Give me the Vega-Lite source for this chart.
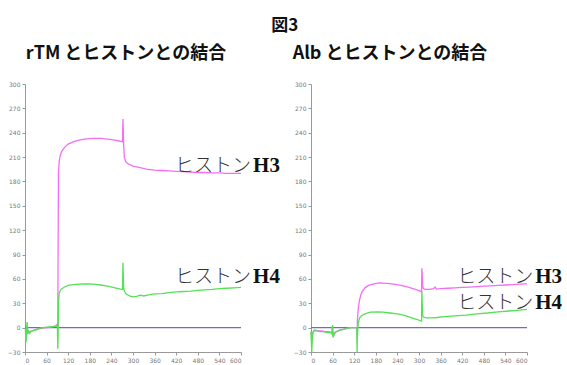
{
  "$schema": "https://vega.github.io/schema/vega-lite/v6.json",
  "background": "white",
  "padding": {"left": 7, "top": 17, "right": 0, "bottom": 0},
  "bounds": "flush",
  "title": {"text": "図3", "font": "Noto Sans CJK JP", "fontSize": 17, "fontWeight": "bold", "color": "#111", "anchor": "middle", "offset": 10},
  "datasets": {
    "curves": [
      {"p":"rTM","s":"H3","t":1,"v":-2},{"p":"rTM","s":"H3","t":3,"v":-6},{"p":"rTM","s":"H3","t":5,"v":-4},{"p":"rTM","s":"H3","t":8,"v":-7},{"p":"rTM","s":"H3","t":12,"v":-5},{"p":"rTM","s":"H3","t":20,"v":-4},{"p":"rTM","s":"H3","t":30,"v":-2},{"p":"rTM","s":"H3","t":45,"v":-1},{"p":"rTM","s":"H3","t":60,"v":0},{"p":"rTM","s":"H3","t":75,"v":1},{"p":"rTM","s":"H3","t":85,"v":2},{"p":"rTM","s":"H3","t":89,"v":4},{"p":"rTM","s":"H3","t":91,"v":3},{"p":"rTM","s":"H3","t":92,"v":100},{"p":"rTM","s":"H3","t":93,"v":190},{"p":"rTM","s":"H3","t":95,"v":205},{"p":"rTM","s":"H3","t":98,"v":212},{"p":"rTM","s":"H3","t":102,"v":217},{"p":"rTM","s":"H3","t":110,"v":222},{"p":"rTM","s":"H3","t":120,"v":226},{"p":"rTM","s":"H3","t":135,"v":229},{"p":"rTM","s":"H3","t":150,"v":231},{"p":"rTM","s":"H3","t":170,"v":232.5},{"p":"rTM","s":"H3","t":190,"v":233},{"p":"rTM","s":"H3","t":210,"v":233},{"p":"rTM","s":"H3","t":230,"v":232},{"p":"rTM","s":"H3","t":250,"v":231},{"p":"rTM","s":"H3","t":265,"v":229.5},{"p":"rTM","s":"H3","t":271,"v":229},{"p":"rTM","s":"H3","t":272,"v":257},{"p":"rTM","s":"H3","t":273,"v":245},{"p":"rTM","s":"H3","t":274,"v":225},{"p":"rTM","s":"H3","t":276,"v":210},{"p":"rTM","s":"H3","t":279,"v":205},{"p":"rTM","s":"H3","t":285,"v":202},{"p":"rTM","s":"H3","t":300,"v":199},{"p":"rTM","s":"H3","t":320,"v":197},{"p":"rTM","s":"H3","t":340,"v":195},{"p":"rTM","s":"H3","t":360,"v":194},{"p":"rTM","s":"H3","t":380,"v":193.5},{"p":"rTM","s":"H3","t":400,"v":193},{"p":"rTM","s":"H3","t":420,"v":192.5},{"p":"rTM","s":"H3","t":440,"v":192},{"p":"rTM","s":"H3","t":460,"v":191.5},{"p":"rTM","s":"H3","t":480,"v":191},{"p":"rTM","s":"H3","t":500,"v":191},{"p":"rTM","s":"H3","t":520,"v":190.5},{"p":"rTM","s":"H3","t":540,"v":190.5},{"p":"rTM","s":"H3","t":560,"v":190},{"p":"rTM","s":"H3","t":580,"v":190},{"p":"rTM","s":"H3","t":600,"v":190},
      {"p":"rTM","s":"H4","t":1,"v":-3},{"p":"rTM","s":"H4","t":3,"v":-18},{"p":"rTM","s":"H4","t":4,"v":-8},{"p":"rTM","s":"H4","t":5,"v":2},{"p":"rTM","s":"H4","t":6,"v":7},{"p":"rTM","s":"H4","t":7,"v":-2},{"p":"rTM","s":"H4","t":8,"v":-6},{"p":"rTM","s":"H4","t":10,"v":-4},{"p":"rTM","s":"H4","t":13,"v":-7},{"p":"rTM","s":"H4","t":16,"v":-5},{"p":"rTM","s":"H4","t":20,"v":-4},{"p":"rTM","s":"H4","t":30,"v":-3},{"p":"rTM","s":"H4","t":40,"v":-1},{"p":"rTM","s":"H4","t":50,"v":0},{"p":"rTM","s":"H4","t":60,"v":0.5},{"p":"rTM","s":"H4","t":70,"v":1},{"p":"rTM","s":"H4","t":80,"v":1.5},{"p":"rTM","s":"H4","t":88,"v":2},{"p":"rTM","s":"H4","t":90,"v":1},{"p":"rTM","s":"H4","t":91,"v":-26},{"p":"rTM","s":"H4","t":92,"v":-10},{"p":"rTM","s":"H4","t":93,"v":30},{"p":"rTM","s":"H4","t":95,"v":42},{"p":"rTM","s":"H4","t":98,"v":46},{"p":"rTM","s":"H4","t":102,"v":48},{"p":"rTM","s":"H4","t":110,"v":50},{"p":"rTM","s":"H4","t":120,"v":52},{"p":"rTM","s":"H4","t":135,"v":53},{"p":"rTM","s":"H4","t":150,"v":53.5},{"p":"rTM","s":"H4","t":170,"v":54},{"p":"rTM","s":"H4","t":190,"v":53.5},{"p":"rTM","s":"H4","t":210,"v":52.5},{"p":"rTM","s":"H4","t":230,"v":51},{"p":"rTM","s":"H4","t":250,"v":49},{"p":"rTM","s":"H4","t":265,"v":47.5},{"p":"rTM","s":"H4","t":271,"v":47},{"p":"rTM","s":"H4","t":272,"v":80},{"p":"rTM","s":"H4","t":273,"v":65},{"p":"rTM","s":"H4","t":274,"v":50},{"p":"rTM","s":"H4","t":276,"v":45},{"p":"rTM","s":"H4","t":280,"v":42},{"p":"rTM","s":"H4","t":290,"v":39},{"p":"rTM","s":"H4","t":300,"v":38},{"p":"rTM","s":"H4","t":310,"v":38.5},{"p":"rTM","s":"H4","t":320,"v":40},{"p":"rTM","s":"H4","t":330,"v":39},{"p":"rTM","s":"H4","t":340,"v":40},{"p":"rTM","s":"H4","t":350,"v":41},{"p":"rTM","s":"H4","t":360,"v":41.5},{"p":"rTM","s":"H4","t":380,"v":42},{"p":"rTM","s":"H4","t":400,"v":43},{"p":"rTM","s":"H4","t":420,"v":44},{"p":"rTM","s":"H4","t":440,"v":44.5},{"p":"rTM","s":"H4","t":460,"v":45},{"p":"rTM","s":"H4","t":480,"v":46},{"p":"rTM","s":"H4","t":500,"v":46.5},{"p":"rTM","s":"H4","t":520,"v":47},{"p":"rTM","s":"H4","t":540,"v":48},{"p":"rTM","s":"H4","t":560,"v":48.5},{"p":"rTM","s":"H4","t":580,"v":49},{"p":"rTM","s":"H4","t":600,"v":49.5},
      {"p":"Alb","s":"H3","t":0,"v":-5},{"p":"Alb","s":"H3","t":2,"v":-14},{"p":"Alb","s":"H3","t":3,"v":-11},{"p":"Alb","s":"H3","t":5,"v":-7},{"p":"Alb","s":"H3","t":7,"v":-4},{"p":"Alb","s":"H3","t":10,"v":-3},{"p":"Alb","s":"H3","t":20,"v":-4},{"p":"Alb","s":"H3","t":30,"v":-4},{"p":"Alb","s":"H3","t":40,"v":-5},{"p":"Alb","s":"H3","t":50,"v":-5},{"p":"Alb","s":"H3","t":55,"v":-6},{"p":"Alb","s":"H3","t":58,"v":-7},{"p":"Alb","s":"H3","t":59,"v":-2},{"p":"Alb","s":"H3","t":60,"v":2},{"p":"Alb","s":"H3","t":61,"v":-8},{"p":"Alb","s":"H3","t":63,"v":-9},{"p":"Alb","s":"H3","t":66,"v":-6},{"p":"Alb","s":"H3","t":70,"v":-5},{"p":"Alb","s":"H3","t":80,"v":-3},{"p":"Alb","s":"H3","t":90,"v":-2},{"p":"Alb","s":"H3","t":100,"v":-1},{"p":"Alb","s":"H3","t":110,"v":0},{"p":"Alb","s":"H3","t":120,"v":0},{"p":"Alb","s":"H3","t":127,"v":0},{"p":"Alb","s":"H3","t":128,"v":-8},{"p":"Alb","s":"H3","t":129,"v":10},{"p":"Alb","s":"H3","t":131,"v":22},{"p":"Alb","s":"H3","t":134,"v":32},{"p":"Alb","s":"H3","t":138,"v":40},{"p":"Alb","s":"H3","t":143,"v":45},{"p":"Alb","s":"H3","t":150,"v":49},{"p":"Alb","s":"H3","t":160,"v":52},{"p":"Alb","s":"H3","t":175,"v":54},{"p":"Alb","s":"H3","t":190,"v":55},{"p":"Alb","s":"H3","t":210,"v":54.5},{"p":"Alb","s":"H3","t":230,"v":53.5},{"p":"Alb","s":"H3","t":250,"v":52},{"p":"Alb","s":"H3","t":270,"v":50},{"p":"Alb","s":"H3","t":290,"v":47},{"p":"Alb","s":"H3","t":300,"v":45.5},{"p":"Alb","s":"H3","t":307,"v":44},{"p":"Alb","s":"H3","t":308,"v":73},{"p":"Alb","s":"H3","t":309,"v":65},{"p":"Alb","s":"H3","t":310,"v":52},{"p":"Alb","s":"H3","t":312,"v":48},{"p":"Alb","s":"H3","t":318,"v":47},{"p":"Alb","s":"H3","t":330,"v":47},{"p":"Alb","s":"H3","t":340,"v":48},{"p":"Alb","s":"H3","t":345,"v":50},{"p":"Alb","s":"H3","t":348,"v":47.5},{"p":"Alb","s":"H3","t":360,"v":48},{"p":"Alb","s":"H3","t":380,"v":48.5},{"p":"Alb","s":"H3","t":400,"v":49},{"p":"Alb","s":"H3","t":420,"v":49.5},{"p":"Alb","s":"H3","t":440,"v":50},{"p":"Alb","s":"H3","t":460,"v":50.5},{"p":"Alb","s":"H3","t":480,"v":51},{"p":"Alb","s":"H3","t":500,"v":51.5},{"p":"Alb","s":"H3","t":520,"v":52},{"p":"Alb","s":"H3","t":540,"v":52.5},{"p":"Alb","s":"H3","t":560,"v":53},{"p":"Alb","s":"H3","t":580,"v":53.5},{"p":"Alb","s":"H3","t":600,"v":54},
      {"p":"Alb","s":"H4","t":0,"v":-5},{"p":"Alb","s":"H4","t":2,"v":-30},{"p":"Alb","s":"H4","t":3,"v":-20},{"p":"Alb","s":"H4","t":5,"v":-6},{"p":"Alb","s":"H4","t":8,"v":-4},{"p":"Alb","s":"H4","t":15,"v":-4},{"p":"Alb","s":"H4","t":25,"v":-5},{"p":"Alb","s":"H4","t":35,"v":-5},{"p":"Alb","s":"H4","t":45,"v":-6},{"p":"Alb","s":"H4","t":55,"v":-6},{"p":"Alb","s":"H4","t":58,"v":-8},{"p":"Alb","s":"H4","t":59,"v":0},{"p":"Alb","s":"H4","t":60,"v":3},{"p":"Alb","s":"H4","t":61,"v":-12},{"p":"Alb","s":"H4","t":63,"v":-10},{"p":"Alb","s":"H4","t":66,"v":-7},{"p":"Alb","s":"H4","t":70,"v":-5},{"p":"Alb","s":"H4","t":80,"v":-3},{"p":"Alb","s":"H4","t":90,"v":-2},{"p":"Alb","s":"H4","t":100,"v":-1},{"p":"Alb","s":"H4","t":110,"v":0},{"p":"Alb","s":"H4","t":120,"v":0},{"p":"Alb","s":"H4","t":127,"v":0},{"p":"Alb","s":"H4","t":128,"v":-30},{"p":"Alb","s":"H4","t":129,"v":-10},{"p":"Alb","s":"H4","t":131,"v":5},{"p":"Alb","s":"H4","t":135,"v":12},{"p":"Alb","s":"H4","t":141,"v":15},{"p":"Alb","s":"H4","t":150,"v":17},{"p":"Alb","s":"H4","t":165,"v":19},{"p":"Alb","s":"H4","t":185,"v":19.5},{"p":"Alb","s":"H4","t":200,"v":19},{"p":"Alb","s":"H4","t":220,"v":18},{"p":"Alb","s":"H4","t":240,"v":17},{"p":"Alb","s":"H4","t":260,"v":15},{"p":"Alb","s":"H4","t":280,"v":12},{"p":"Alb","s":"H4","t":295,"v":10},{"p":"Alb","s":"H4","t":307,"v":8},{"p":"Alb","s":"H4","t":308,"v":45},{"p":"Alb","s":"H4","t":309,"v":30},{"p":"Alb","s":"H4","t":310,"v":16},{"p":"Alb","s":"H4","t":312,"v":13},{"p":"Alb","s":"H4","t":320,"v":12},{"p":"Alb","s":"H4","t":335,"v":12},{"p":"Alb","s":"H4","t":350,"v":12.5},{"p":"Alb","s":"H4","t":370,"v":13.5},{"p":"Alb","s":"H4","t":400,"v":14.5},{"p":"Alb","s":"H4","t":430,"v":15.5},{"p":"Alb","s":"H4","t":460,"v":17},{"p":"Alb","s":"H4","t":490,"v":18},{"p":"Alb","s":"H4","t":520,"v":19.5},{"p":"Alb","s":"H4","t":550,"v":20.5},{"p":"Alb","s":"H4","t":580,"v":21.5},{"p":"Alb","s":"H4","t":600,"v":22.5}
    ],
    "zero": [{"t": 0, "t2": 600, "v": 0}],
    "labels": [
      {"p":"rTM","t":417,"v":203,"kana":"ヒストン","h":"H3"},
      {"p":"rTM","t":417,"v":66,"kana":"ヒストン","h":"H4"},
      {"p":"Alb","t":406,"v":66,"kana":"ヒストン","h":"H3"},
      {"p":"Alb","t":406,"v":34,"kana":"ヒストン","h":"H4"}
    ]
  },
  "config": {
    "view": {"stroke": null},
    "axis": {"grid": false, "labelFont": "DejaVu Sans", "labelFontSize": 6, "labelColor": "#777", "domainColor": "#999", "tickColor": "#999", "tickSize": 3, "labelPadding": 2, "labelOverlap": false, "labelSeparation": 0, "title": null},
    "axisX": {"labelOverlap": false},
    "axisY": {"labelOverlap": false},
    "title": {"font": "Noto Sans CJK JP", "fontSize": 18, "fontWeight": "bold", "color": "#111"},
    "concat": {"spacing": 70}
  },
  "hconcat": [
    {
      "width": 216, "height": 268,
      "title": {"text": "rTM とヒストンとの結合", "anchor": "middle", "frame": "group", "dx": -7, "offset": 18},
      "encoding": {
        "x": {"field": "t", "type": "quantitative", "scale": {"domain": [0, 600], "nice": false}, "axis": {"values": [0,60,120,180,240,300,360,420,480,540,600], "labelOverlap": false}},
        "y": {"field": "v", "type": "quantitative", "scale": {"domain": [-30, 300], "nice": false}, "axis": {"values": [-30,0,30,60,90,120,150,180,210,240,270,300], "labelOverlap": false}}
      },
      "layer": [
        {
          "data": {"name": "zero"},
          "mark": {"type": "rule", "color": "#6b6bd0", "strokeWidth": 1.2},
          "encoding": {"x2": {"field": "t2"}}
        },
        {
          "data": {"name": "curves"},
          "transform": [{"filter": "datum.p === 'rTM'"}],
          "mark": {"type": "line", "strokeWidth": 1.3},
          "encoding": {
            "detail": {"field": "s"},
            "color": {"field": "s", "type": "nominal", "scale": {"domain": ["H3", "H4"], "range": ["#f46ef4", "#55e055"]}, "legend": null}
          }
        },
        {
          "data": {"name": "labels"},
          "transform": [{"filter": "datum.p === 'rTM'"}],
          "mark": {"type": "text", "align": "left", "baseline": "middle", "font": "Noto Sans CJK JP", "fontSize": 19, "fontWeight": 300, "color": "#333", "dy": 3},
          "encoding": {"text": {"field": "kana"}}
        },
        {
          "data": {"name": "labels"},
          "transform": [{"filter": "datum.p === 'rTM'"}],
          "mark": {"type": "text", "align": "left", "baseline": "middle", "font": "Liberation Serif", "fontSize": 21, "fontWeight": "bold", "color": "#111", "dx": 78, "dy": 3},
          "encoding": {"text": {"field": "h"}}
        }
      ]
    },
    {
      "width": 216, "height": 268,
      "title": {"text": "Alb とヒストンとの結合", "anchor": "middle", "frame": "group", "dx": -29, "offset": 18},
      "encoding": {
        "x": {"field": "t", "type": "quantitative", "scale": {"domain": [0, 600], "nice": false}, "axis": {"values": [0,60,120,180,240,300,360,420,480,540,600], "labelOverlap": false}},
        "y": {"field": "v", "type": "quantitative", "scale": {"domain": [-30, 300], "nice": false}, "axis": {"values": [-30,0,30,60,90,120,150,180,210,240,270,300], "labelOverlap": false}}
      },
      "layer": [
        {
          "data": {"name": "zero"},
          "mark": {"type": "rule", "color": "#6b6bd0", "strokeWidth": 1.2},
          "encoding": {"x2": {"field": "t2"}}
        },
        {
          "data": {"name": "curves"},
          "transform": [{"filter": "datum.p === 'Alb'"}],
          "mark": {"type": "line", "strokeWidth": 1.3},
          "encoding": {
            "detail": {"field": "s"},
            "color": {"field": "s", "type": "nominal", "scale": {"domain": ["H3", "H4"], "range": ["#f46ef4", "#55e055"]}, "legend": null}
          }
        },
        {
          "data": {"name": "labels"},
          "transform": [{"filter": "datum.p === 'Alb'"}],
          "mark": {"type": "text", "align": "left", "baseline": "middle", "font": "Noto Sans CJK JP", "fontSize": 19, "fontWeight": 300, "color": "#333", "dy": 3},
          "encoding": {"text": {"field": "kana"}}
        },
        {
          "data": {"name": "labels"},
          "transform": [{"filter": "datum.p === 'Alb'"}],
          "mark": {"type": "text", "align": "left", "baseline": "middle", "font": "Liberation Serif", "fontSize": 21, "fontWeight": "bold", "color": "#111", "dx": 78, "dy": 3},
          "encoding": {"text": {"field": "h"}}
        }
      ]
    }
  ]
}
